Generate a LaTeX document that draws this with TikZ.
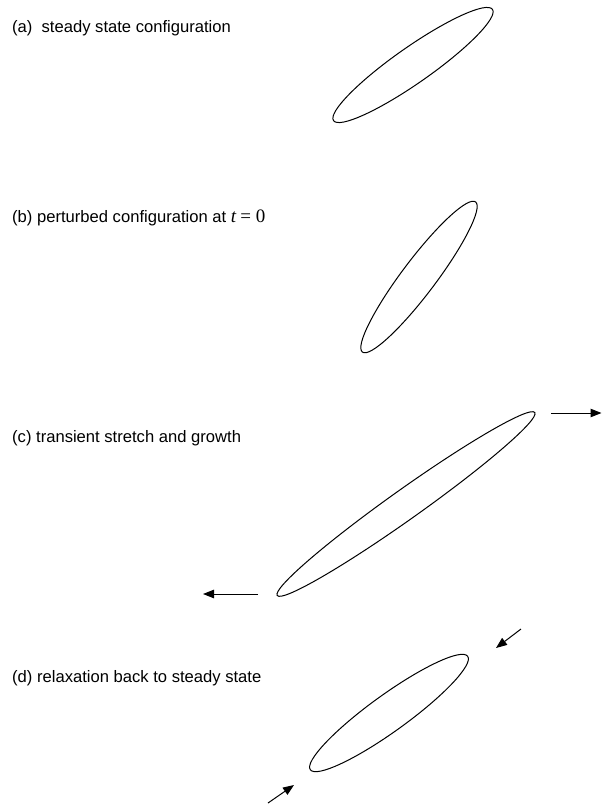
\documentclass[tikz,border=0pt]{standalone}
\usepackage{fontspec}
\setmainfont{Liberation Sans}
\newfontfamily\seriffont{Liberation Serif}
\usetikzlibrary{arrows.meta}
\begin{document}
\begin{tikzpicture}[x=1pt,y=-1pt,
  lbl/.style={anchor=base west, inner sep=0pt, font=\fontsize{16.6}{19}\selectfont},
  ell/.style={draw, line width=1pt},
  arr/.style={line width=1pt, -{Triangle[length=11pt,width=8.5pt]}}]
\useasboundingbox (0,0) rectangle (602,806);
% labels
\node[lbl] (la) at (12,32) {(a)\ \ steady state configuration};
\node[lbl] (lb) at (12,222) {(b) perturbed configuration at {\seriffont\fontsize{19}{22}\selectfont\itshape t}\hspace{0.25em}{\seriffont\fontsize{19}{22}\selectfont = 0}};
\node[lbl] (lc) at (12,442) {(c) transient stretch and growth};
\node[lbl] (ld) at (12,682) {(d) relaxation back to steady state};
% ellipses
\draw[ell, rotate around={35:(413,65)}] (413,65) ellipse [x radius=97pt, y radius=18pt];
\draw[ell, rotate around={53:(419,277)}] (419,277) ellipse [x radius=94pt, y radius=17pt];
\draw[ell, rotate around={35.4:(406,504)}] (406,504) ellipse [x radius=158pt, y radius=15pt];
\draw[ell, rotate around={35.8:(389,713)}] (389,713) ellipse [x radius=97pt, y radius=18.4pt];
% arrows
\coordinate (c1s) at (551,413); \coordinate (c1e) at (601.5,413);
\coordinate (c2s) at (258,594); \coordinate (c2e) at (203,594);
\coordinate (d1s) at (521,629); \coordinate (d1e) at (496,648);
\coordinate (d2s) at (268,803); \coordinate (d2e) at (294,785);
\draw[arr] (c1s) -- (c1e);
\draw[arr] (c2s) -- (c2e);
\draw[arr] (d1s) -- (d1e);
\draw[arr] (d2s) -- (d2e);
\end{tikzpicture}
\end{document}
